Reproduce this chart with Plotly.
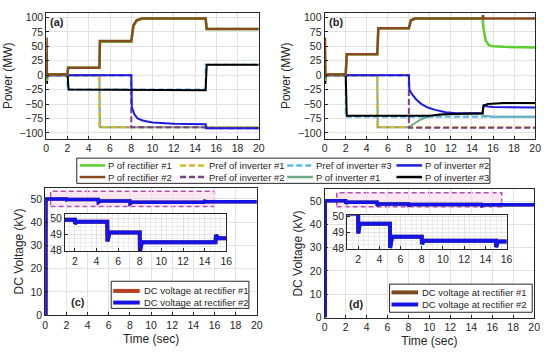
import plotly.graph_objects as go

# ---------------- data ----------------
# Panel (a): time (s) / power (MW)
a_rect1_t = [0, 0.03, 0.06, 0.1, 2.0, 2.05, 5.0, 5.05, 8.0, 8.2, 8.5, 9.0, 15.0, 15.1, 20.0]
a_rect1_p = [0, 40, -10, 1, 1, 13, 13, 58, 58, 85, 94, 98, 98, 80, 80]
a_rect2_t = [0, 0.03, 0.06, 0.1, 2.0, 2.05, 5.0, 5.05, 8.0, 8.2, 8.5, 9.0, 15.0, 15.1, 20.0]
a_rect2_p = [0, 65, -5, 1, 1, 13, 13, 59, 59, 86, 95, 98, 98, 80, 80]
a_inv1_t = [0, 5.0, 5.05, 20.0]
a_inv1_p = [0, 0, -90, -90]
a_inv2_t = [0, 8.0, 8.05, 8.3, 8.6, 9.0, 9.5, 10.0, 12.0, 15.0, 15.1, 20.0]
a_inv2_p = [0, 0, -55, -68, -75, -78, -80, -82, -84, -85, -92, -92]
a_inv3_t = [0, 0.03, 0.06, 0.1, 2.0, 2.1, 15.0, 15.1, 20.0]
a_inv3_p = [0, 38, -15, 1, 1, -25, -26, 18, 18]
a_pref1_t = [0, 5.0, 5.0, 20.0]
a_pref1_p = [0, 0, -90, -90]
a_pref2_t = [0, 8.0, 8.0, 15.0, 15.0, 20.0]
a_pref2_p = [0, 0, -90, -90, -92, -92]
a_pref3_t = [0, 2.0, 2.0, 15.0, 15.0, 20.0]
a_pref3_p = [0, 0, -25, -25, 18, 18]

# Panel (b)
b_rect1_t = [0, 0.03, 0.06, 0.1, 2.0, 2.1, 5.0, 5.1, 8.0, 8.2, 8.6, 15.0, 15.1, 15.3, 15.6, 16.0, 17.0, 20.0]
b_rect1_p = [0, 40, -10, 1, 1, 36, 36, 81, 81, 95, 98, 98, 80, 60, 52, 50, 49, 48]
b_rect2_t = [0, 0.03, 0.06, 0.1, 2.0, 2.1, 5.0, 5.1, 8.0, 8.2, 8.6, 15.0, 15.05, 15.1, 20.0]
b_rect2_p = [0, 65, -5, 1, 1, 36, 36, 81, 81, 95, 98, 98, 104, 98, 98]
b_inv1_t = [0, 5.0, 5.05, 8.0, 8.5, 9.0, 9.5, 10.0, 11.0, 15.0, 15.1, 16.0, 20.0]
b_inv1_p = [0, 0, -90, -90, -84, -78, -74, -71, -68, -67, -70, -72, -72]
b_inv2_t = [0, 8.0, 8.05, 8.3, 8.7, 9.2, 9.8, 10.5, 11.5, 12.5, 15.0, 15.1, 15.5, 16.0, 20.0]
b_inv2_p = [0, 0, -25, -33, -42, -50, -56, -60, -64, -66, -66, -52, -54, -55, -56]
b_inv3_t = [0, 0.03, 0.06, 0.1, 2.0, 2.1, 8.0, 9.0, 10.0, 11.0, 12.0, 15.0, 15.1, 15.5, 16.0, 17.0, 20.0]
b_inv3_p = [0, 40, -15, 1, 1, -70, -70, -71, -70, -68, -67, -66, -53, -50, -49, -48, -48]
b_pref1_t = [0, 5.0, 5.0, 20.0]
b_pref1_p = [0, 0, -90, -90]
b_pref2_t = [0, 8.0, 8.0, 20.0]
b_pref2_p = [0, 0, -91, -91]
b_pref3_t = [0, 2.0, 2.0, 20.0]
b_pref3_p = [0, 0, -72, -72]

# Panel (c): DC voltage (kV)
c_t = [0.05, 0.06, 2.0, 2.02, 2.15, 5.0, 5.02, 5.2, 8.0, 8.02, 8.2, 15.0, 15.05, 15.25, 20.0]
c_v_rect1 = [0, 49.9, 49.9, 49.65, 49.78, 49.78, 48.55, 49.1, 49.1, 47.97, 48.5, 48.5, 48.95, 48.75, 48.75]
c_v_rect2 = [0, 49.9, 49.9, 49.65, 49.78, 49.78, 48.55, 49.1, 49.1, 47.97, 48.5, 48.5, 48.95, 48.75, 48.75]
# Panel (d)
d_t = [0.05, 0.06, 2.0, 2.02, 2.15, 5.0, 5.02, 5.2, 8.0, 8.02, 8.2, 15.0, 15.02, 15.15, 20.0]
d_v_rect1 = [0, 50.2, 50.2, 48.95, 49.55, 49.55, 48.05, 48.75, 48.75, 48.3, 48.5, 48.5, 48.1, 48.45, 48.45]
d_v_rect2 = [0, 50.2, 50.2, 48.95, 49.55, 49.55, 48.05, 48.75, 48.75, 48.3, 48.5, 48.5, 48.1, 48.45, 48.45]

# zoom window marked on the voltage plots  [t0, t1, v0, v1]
c_zoom_box = [0.5, 16.0, 46.7, 53.3]
d_zoom_box = [1.15, 16.9, 47.6, 53.6]

x_ticks = [0, 2, 4, 6, 8, 10, 12, 14, 16, 18, 20]
p_ticks = [-100, -75, -50, -25, 0, 25, 50, 75, 100]
v_ticks = [0, 10, 20, 30, 40, 50]
inset_x_ticks = [2, 4, 6, 8, 10, 12, 14, 16]
inset_v_ticks = [48, 49, 50]

# ---------------- styles ----------------
FONT = "Liberation Sans, Arial, sans-serif"
TXT = "#262626"
GRID = "#e2e2e2"
W, H = 550, 358


def px(x):
    return x / W


def py(y):
    return 1 - y / H


series = {
    "P of rectifier #1": dict(color="#5ccf2e", dash="solid", width=2.5),
    "P of rectifier #2": dict(color="#874a1c", dash="solid", width=2.5),
    "Pref of inverter #1": dict(color="#d9b626", dash="6px,3px", width=2),
    "Pref of inverter #2": dict(color="#7a3e8a", dash="6px,3px", width=2),
    "Pref of inverter #3": dict(color="#5bb8ea", dash="6px,3px", width=2),
    "P of inverter #1": dict(color="#6ea887", dash="solid", width=2),
    "P of inverter #2": dict(color="#1c1ce0", dash="solid", width=2),
    "P of inverter #3": dict(color="#000000", dash="solid", width=2),
}

panel_a = [
    ("P of inverter #1", a_inv1_t, a_inv1_p),
    ("Pref of inverter #1", a_pref1_t, a_pref1_p),
    ("Pref of inverter #3", a_pref3_t, a_pref3_p),
    ("Pref of inverter #2", a_pref2_t, a_pref2_p),
    ("P of inverter #2", a_inv2_t, a_inv2_p),
    ("P of inverter #3", a_inv3_t, a_inv3_p),
    ("P of rectifier #1", a_rect1_t, a_rect1_p),
    ("P of rectifier #2", a_rect2_t, a_rect2_p),
]
panel_b = [
    ("P of inverter #1", b_inv1_t, b_inv1_p),
    ("Pref of inverter #1", b_pref1_t, b_pref1_p),
    ("Pref of inverter #3", b_pref3_t, b_pref3_p),
    ("Pref of inverter #2", b_pref2_t, b_pref2_p),
    ("P of inverter #2", b_inv2_t, b_inv2_p),
    ("P of inverter #3", b_inv3_t, b_inv3_p),
    ("P of rectifier #1", b_rect1_t, b_rect1_p),
    ("P of rectifier #2", b_rect2_t, b_rect2_p),
]

fig = go.Figure()

for (name, t, p) in panel_a:
    s = series[name]
    fig.add_trace(go.Scatter(x=t, y=p, mode="lines", name=name, showlegend=False,
                             line=dict(color=s["color"], dash=s["dash"], width=s["width"]),
                             xaxis="x", yaxis="y"))
for (name, t, p) in panel_b:
    s = series[name]
    fig.add_trace(go.Scatter(x=t, y=p, mode="lines", name=name, showlegend=False,
                             line=dict(color=s["color"], dash=s["dash"], width=s["width"]),
                             xaxis="x2", yaxis="y2"))

V_BLUE = "#1414e6"
c_red = "#b8401e"
d_brown = "#7a4a1e"
for xa, ya, w in [("x3", "y3", 3.5), ("x5", "y5", 4)]:
    fig.add_trace(go.Scatter(x=c_t, y=c_v_rect1, mode="lines", name="DC voltage at rectifier #1",
                             showlegend=False, line=dict(color=c_red, width=w), xaxis=xa, yaxis=ya))
    fig.add_trace(go.Scatter(x=c_t, y=c_v_rect2, mode="lines", name="DC voltage at rectifier #2",
                             showlegend=False, line=dict(color=V_BLUE, width=w), xaxis=xa, yaxis=ya))
for xa, ya, w in [("x4", "y4", 3.5), ("x6", "y6", 4)]:
    fig.add_trace(go.Scatter(x=d_t, y=d_v_rect1, mode="lines", name="DC voltage at rectifier #1",
                             showlegend=False, line=dict(color=d_brown, width=w), xaxis=xa, yaxis=ya))
    fig.add_trace(go.Scatter(x=d_t, y=d_v_rect2, mode="lines", name="DC voltage at rectifier #2",
                             showlegend=False, line=dict(color=V_BLUE, width=w), xaxis=xa, yaxis=ya))


def ax(domain, rng, ticks, anchor, title=None, size=10.5, **kw):
    d = dict(domain=domain, range=rng, tickvals=ticks, anchor=anchor,
             showline=True, mirror=True, linecolor=TXT, linewidth=1,
             showgrid=True, gridcolor=GRID, gridwidth=1, zeroline=False,
             ticks="inside", ticklen=3, tickcolor=TXT,
             tickfont=dict(family=FONT, size=size, color=TXT))
    if title:
        d["title"] = dict(text=title, font=dict(family=FONT, size=12, color=TXT), standoff=4)
    d.update(kw)
    return d


layout = dict(
    width=W, height=H, margin=dict(l=0, r=0, t=0, b=0),
    paper_bgcolor="white", plot_bgcolor="white", showlegend=False,
    font=dict(family=FONT, color=TXT),
    xaxis=ax([px(44), px(260)], [0, 20], x_ticks, "y"),
    yaxis=ax([py(138), py(8)], [-110, 108], p_ticks, "x", "Power (MW)"),
    xaxis2=ax([px(327), px(541)], [0, 20], x_ticks, "y2"),
    yaxis2=ax([py(138), py(8)], [-110, 108], p_ticks, "x2", "Power (MW)"),
    xaxis3=ax([px(43), px(258)], [0, 20], x_ticks, "y3", "Time (sec)"),
    yaxis3=ax([py(320), py(188.5)], [0, 54.8], v_ticks, "x3", "DC Voltage (kV)"),
    xaxis4=ax([px(327), px(540)], [0, 20], x_ticks, "y4", "Time (sec)"),
    yaxis4=ax([py(322.5), py(190.3)], [0, 55], v_ticks, "x4", "DC Voltage (kV)"),
    xaxis5=ax([px(63), px(227)], [1.09, 16], inset_x_ticks, "y5",
              minor=dict(dtick=0.5, showgrid=True, gridcolor="#ebebeb", ticks="")),
    yaxis5=ax([py(254), py(216)], [47.94, 50.24], inset_v_ticks, "x5",
              minor=dict(dtick=0.25, showgrid=True, gridcolor="#ebebeb", ticks="")),
    xaxis6=ax([px(350), px(512)], [0.98, 16], inset_x_ticks, "y6",
              minor=dict(dtick=0.5, showgrid=True, gridcolor="#ebebeb", ticks="")),
    yaxis6=ax([py(252), py(216.7)], [47.97, 50.1], inset_v_ticks, "x6",
              minor=dict(dtick=0.25, showgrid=True, gridcolor="#ebebeb", ticks="")),
)
fig.update_layout(**layout)

shapes = []
annotations = []
# zoom windows
for (box, xr, yr) in [(c_zoom_box, "x3", "y3"), (d_zoom_box, "x4", "y4")]:
    shapes.append(dict(type="rect", xref=xr, yref=yr, x0=box[0], x1=box[1], y0=box[2], y1=box[3],
                       line=dict(color="#b34db3", width=1.5, dash="5px,3px"),
                       fillcolor="rgba(255,182,222,0.35)", layer="below"))

# panel labels
for text, xr, yr, x, y in [("(a)", "x", "y", 1.0, 92), ("(b)", "x2", "y2", 1.1, 92),
                           ("(c)", "x3", "y3", 3.1, 5.5), ("(d)", "x4", "y4", 3.0, 6)]:
    annotations.append(dict(text="<b>%s</b>" % text, xref=xr, yref=yr, x=x, y=y, showarrow=False,
                            xanchor="center", yanchor="middle",
                            font=dict(family=FONT, size=11, color=TXT)))

# main legend (4 columns x 2 rows)
legend_order = ["P of rectifier #1", "Pref of inverter #1", "Pref of inverter #3", "P of inverter #2",
                "P of rectifier #2", "Pref of inverter #2", "P of inverter #1", "P of inverter #3"]
col_x = [78, 180, 289, 400]
row_y = [165.5, 177.5]
shapes.append(dict(type="rect", xref="paper", yref="paper", x0=px(75), x1=px(495), y0=py(184), y1=py(158),
                   line=dict(color=TXT, width=1), fillcolor="white", layer="above"))
for i, name in enumerate(legend_order):
    s = series[name]
    cx = col_x[i % 4]
    ry = row_y[i // 4]
    shapes.append(dict(type="line", xref="paper", yref="paper", x0=px(cx), x1=px(cx + 26), y0=py(ry), y1=py(ry),
                       line=dict(color=s["color"], width=2.5, dash=s["dash"]), layer="above"))
    annotations.append(dict(text=name, xref="paper", yref="paper", x=px(cx + 27), y=py(ry), showarrow=False,
                            xanchor="left", yanchor="middle", font=dict(family=FONT, size=9.5, color=TXT)))

# voltage legends
for (bx0, bx1, by0, by1, rows, lx, col1) in [(110, 250, 285, 313, [295, 307], 112, c_red),
                                             (393, 538, 288, 317, [296.5, 309], 395, d_brown)]:
    shapes.append(dict(type="rect", xref="paper", yref="paper", x0=px(bx0), x1=px(bx1), y0=py(by1), y1=py(by0),
                       line=dict(color=TXT, width=1), fillcolor="white", layer="above"))
    for ry, (nm, colr) in zip(rows, [("DC voltage at rectifier #1", col1), ("DC voltage at rectifier #2", V_BLUE)]):
        shapes.append(dict(type="line", xref="paper", yref="paper", x0=px(lx), x1=px(lx + 27), y0=py(ry), y1=py(ry),
                           line=dict(color=colr, width=4), layer="above"))
        annotations.append(dict(text=nm, xref="paper", yref="paper", x=px(lx + 29), y=py(ry), showarrow=False,
                                xanchor="left", yanchor="middle", font=dict(family=FONT, size=9.5, color=TXT)))

fig.update_layout(shapes=shapes, annotations=annotations)
fig.write_html("out.html", config={"displayModeBar": False},
               post_script="document.body.style.margin='0';")
